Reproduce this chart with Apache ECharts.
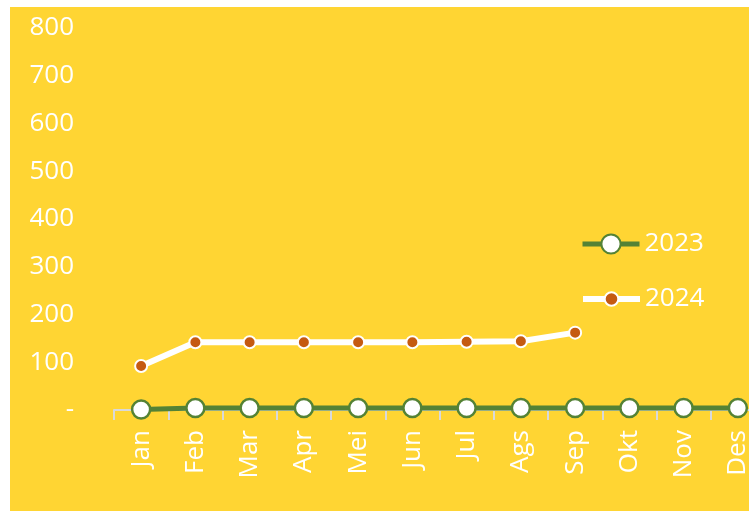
<!DOCTYPE html>
<html>
<head>
<meta charset="utf-8">
<script src="https://cdn.jsdelivr.net/npm/echarts@6/dist/echarts.min.js"></script>
<style>
html,body{margin:0;padding:0;background:#fff;}
#c{width:749px;height:511px;}
</style>
</head>
<body>
<div id="c"></div>
<script>
var categories = ['Jan','Feb','Mar','Apr','Mei','Jun','Jul','Ags','Sep','Okt','Nov','Des'];
var series2023 = [1, 4, 4, 4, 4, 4, 4, 4, 4, 4, 4, 4];
var series2024 = [92, 142, 142, 142, 142, 142, 143, 144, 162];
var yTicks = [0, 100, 200, 300, 400, 500, 600, 700, 800];

var FONT = 'Open Sans';
var FS = 26;
var chart = echarts.init(document.getElementById('c'), null, {renderer: 'canvas'});
chart.setOption({
  animation: false,
  backgroundColor: '#ffffff',
  graphic: [{
    type: 'rect', left: 10, top: 7, z: -100,
    shape: {width: 739, height: 504},
    style: {fill: '#FFD533'}
  }],
  grid: {left: 114, width: 651, top: 28, bottom: 101, containLabel: false, outerBoundsMode: 'none'},
  legend: [{
    orient: 'vertical',
    left: 580, top: 231, padding: 0,
    itemWidth: 57, itemHeight: 24,
    textStyle: {color: '#ffffff', fontFamily: FONT, fontSize: FS},
    lineStyle: {width: 5},
    data: ['2023']
  }, {
    orient: 'vertical',
    left: 580, top: 286, padding: 0,
    itemWidth: 57, itemHeight: 17,
    textStyle: {color: '#ffffff', fontFamily: FONT, fontSize: FS},
    lineStyle: {width: 6},
    data: ['2024']
  }],
  xAxis: {
    type: 'category',
    data: categories,
    boundaryGap: true,
    axisLine: {lineStyle: {color: '#D9D9D9', width: 2}},
    axisTick: {show: true, length: 10, lineStyle: {color: '#D9D9D9', width: 2}},
    axisLabel: {rotate: 90, margin: 20, color: '#ffffff', fontFamily: FONT, fontSize: FS, interval: 0},
    splitLine: {show: false}
  },
  yAxis: {
    type: 'value',
    min: 0, max: 800, interval: 100,
    axisLine: {show: false},
    axisTick: {show: false},
    splitLine: {show: false},
    axisLabel: {
      margin: 40, color: '#ffffff', fontFamily: FONT, fontSize: FS,
      formatter: function (v) { return v === yTicks[0] ? '-' : String(v); }
    }
  },
  series: [
    {
      name: '2023', type: 'line', data: series2023,
      symbol: 'circle', symbolSize: 18, showAllSymbol: true,
      lineStyle: {color: '#548235', width: 5},
      itemStyle: {color: '#ffffff', borderColor: '#548235', borderWidth: 2.5},
      z: 3
    },
    {
      name: '2024', type: 'line', data: series2024,
      symbol: 'circle', symbolSize: 12, showAllSymbol: true,
      lineStyle: {color: '#ffffff', width: 6},
      itemStyle: {color: '#C55A11', borderColor: '#ffffff', borderWidth: 2},
      z: 4
    }
  ]
});
</script>
</body>
</html>
